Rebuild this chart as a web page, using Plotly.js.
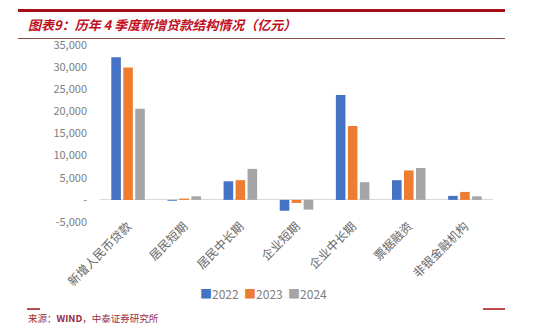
<!DOCTYPE html>
<html>
<head>
<meta charset="utf-8">
<script src="https://cdn.plot.ly/plotly-3.0.1.min.js"></script>
<style>html,body{margin:0;padding:0;background:#fff;}#chart{width:550px;height:330px;}</style>
</head>
<body>
<div id="chart"></div>
<script>
var categories = ["新增人民币贷款", "居民短期", "居民中长期", "企业短期", "企业中长期", "票据融资", "非银金融机构"];
var seriesNames = ["2022", "2023", "2024"];
var values2022 = [32250, -200, 4200, -2450, 23700, 4450, 900];
var values2023 = [29900, 300, 4450, -700, 16700, 6650, 1800];
var values2024 = [20600, 800, 7000, -2200, 4000, 7200, 800];
var seriesValues = [values2022, values2023, values2024];
var seriesColors = ["#4472C4", "#ED7D31", "#A5A5A5"];
var yTickVals = [-5000, 0, 5000, 10000, 15000, 20000, 25000, 30000, 35000];
var yTickText = ["-5,000", "-", "5,000", "10,000", "15,000", "20,000", "25,000", "30,000", "35,000"];
var titleText = "图表9：历年 4 季度新增贷款结构情况（亿元）";
var sourceText = "来源：<b>WIND</b>，中泰证券研究所";

var W = 550, H = 330, L = 100, R = 57, T = 45, B = 108;
var pw = W - L - R, ph = H - T - B;
function px(x) { return (x - L) / pw; }
function py(y) { return (H - B - y) / ph; }

var traces = seriesNames.map(function (name, i) {
  return {
    type: "bar", name: name, x: categories, y: seriesValues[i],
    marker: { color: seriesColors[i] }, showlegend: false, hoverinfo: "x+y"
  };
});

var legendText = seriesNames.map(function (n, i) {
  return '<span style="color:' + seriesColors[i] + '">■</span>' + n;
}).join("  ");

var font = "Noto Sans CJK SC, Liberation Sans, sans-serif";
var layout = {
  width: W, height: H,
  margin: { l: L, r: R, t: T, b: B },
  paper_bgcolor: "#fff", plot_bgcolor: "#fff",
  font: { family: font, color: "#595959", size: 11 },
  barmode: "group", bargap: 0.36, bargroupgap: 0.2,
  xaxis: {
    type: "category", showgrid: false, showline: false, zeroline: false,
    tickangle: -45, ticks: "", tickfont: { size: 12, color: "#666666" },
    ticklabelstandoff: -6
  },
  yaxis: {
    range: [-5000, 35000], tickvals: yTickVals, ticktext: yTickText,
    showgrid: false, showline: false, zeroline: true, zerolinecolor: "#D9D9D9", zerolinewidth: 1,
    ticks: "", ticklabelstandoff: 12, tickfont: { size: 11, color: "#808080" }, fixedrange: true
  },
  shapes: [
    { type: "line", xref: "paper", yref: "paper", x0: px(18), x1: px(505), y0: py(10.5), y1: py(10.5), line: { color: "#A50F15", width: 3 } },
    { type: "line", xref: "paper", yref: "paper", x0: px(18), x1: px(505), y0: py(38.5), y1: py(38.5), line: { color: "#8C4A4A", width: 1 } },
    { type: "line", xref: "paper", yref: "paper", x0: px(27), x1: px(40), y0: py(309), y1: py(309), line: { color: "#A50F15", width: 1.5 } },
    { type: "line", xref: "paper", yref: "paper", x0: px(483), x1: px(505), y0: py(309), y1: py(309), line: { color: "#A50F15", width: 1.5 } }
  ],
  annotations: [
    { text: "<b><i>" + titleText + "</i></b>", xref: "paper", yref: "paper", x: px(26), y: py(24), xanchor: "left", yanchor: "middle", showarrow: false, font: { size: 13, color: "#C0101E", family: font } },
    { text: legendText, xref: "paper", yref: "paper", x: px(263), y: py(293), xanchor: "center", yanchor: "middle", showarrow: false, font: { size: 12, color: "#808080", family: font } },
    { text: sourceText, xref: "paper", yref: "paper", x: px(26), y: py(318), xanchor: "left", yanchor: "middle", showarrow: false, font: { size: 9.5, color: "#9B2C43", family: font } }
  ]
};

Plotly.newPlot("chart", traces, layout, { displayModeBar: false, staticPlot: true });
</script>
</body>
</html>
